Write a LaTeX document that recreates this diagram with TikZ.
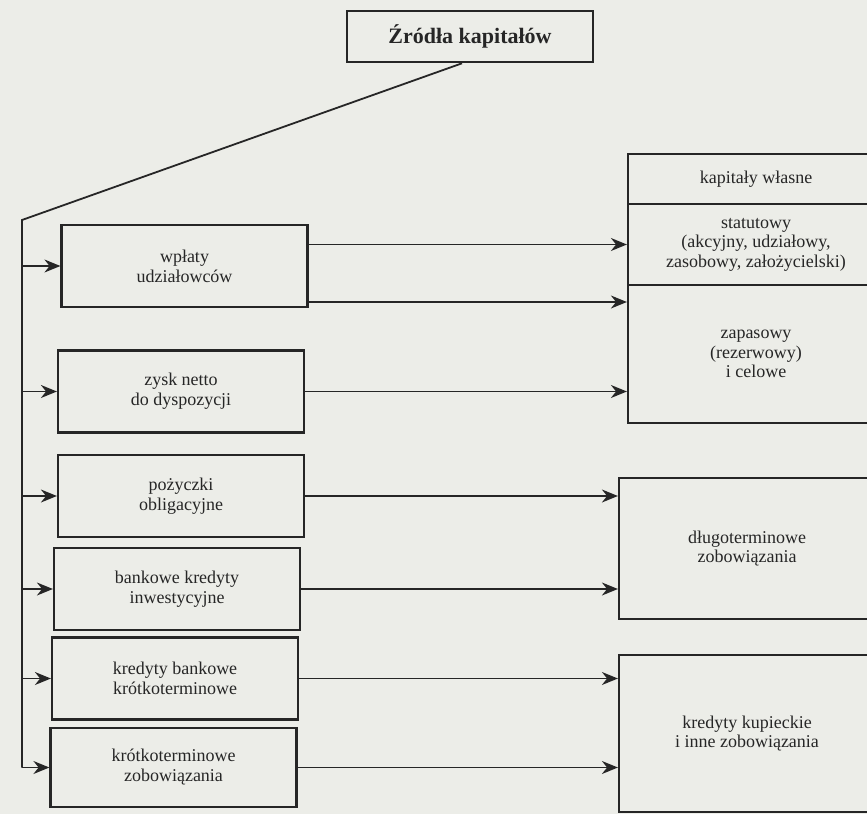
\documentclass[tikz,border=0pt]{standalone}
\usepackage{fontspec}
\setmainfont{Liberation Serif}
\usetikzlibrary{positioning,arrows.meta}
\definecolor{paper}{RGB}{236,237,232}
\definecolor{ink}{RGB}{38,38,38}
\tikzset{
  src/.style={draw=ink,line width=2.2pt,align=center,minimum width=246pt,minimum height=82pt,inner sep=2pt,text=ink,font=\fontsize{18}{20}\selectfont},
  grp/.style={draw=ink,line width=2.2pt,align=center,minimum width=256pt,inner sep=2pt,text=ink,font=\fontsize{18}{19.5}\selectfont},
  ttl/.style={draw=ink,line width=2.6pt,align=center,minimum width=246pt,minimum height=51pt,text=ink,font=\fontsize{22}{24}\selectfont\bfseries},
  arr/.style={-{Stealth[length=16pt,width=13pt]},line width=1.6pt,draw=ink},
  ln/.style={line width=1.8pt,draw=ink},
}

\begin{document}
\begin{tikzpicture}[x=1pt,y=-1pt]
  \fill[paper] (0,0) rectangle (867,814);
  \useasboundingbox (0,0) rectangle (867,814);
  % title
  \node[ttl] (title) at (470,36.5) {Źródła kapitałów};
  % left column: sources
  \node[src] (wp)   at (184.5,266)   {wpłaty\\udziałowców};
  \node[src] (zysk) at (181,391.5)   {zysk netto\\do dyspozycji};
  \node[src] (poz)  at (181,496)     {pożyczki\\obligacyjne};
  \node[src] (bki)  at (177,589)     {bankowe kredyty\\inwestycyjne};
  \node[src] (kbk)  at (175,678.5)   {kredyty bankowe\\krótkoterminowe};
  \node[src,minimum height=79pt] (kz) at (173.5,767.5) {krótkoterminowe\\zobowiązania};
  % right column: capital groups
  \node[grp,minimum height=50pt]  (kw) at (756,179)   {kapitały własne};
  \node[grp,minimum height=81pt]  (st) at (756,244.5) {statutowy\\(akcyjny, udziałowy,\\zasobowy, założycielski)};
  \node[grp,minimum height=138pt] (zp) at (756,354)   {zapasowy\\(rezerwowy)\\i celowe};
  \node[grp,minimum height=141pt] (dl) at (747,548.5) {długoterminowe\\zobowiązania};
  \node[grp,minimum height=157pt] (kk) at (747,733.5) {kredyty kupieckie\\i inne zobowiązania};
  % trunk from the title
  \coordinate (top) at (22,220);
  \coordinate (bot) at (22,767.5);
  \draw[ln] ([xshift=-8pt]title.south) -- (top) -- (bot);
  \foreach \b in {wp,zysk,poz,bki,kbk,kz}
    \draw[arr] (top |- \b.west) -- (\b.west);
  % sources to groups
  \draw[arr] (wp.east |- st.west) -- (st.west);
  \draw[arr] ([yshift=-36pt]wp.east) -- ([yshift=-36pt]wp.east -| zp.west);
  \draw[arr] (zysk.east) -- (zysk.east -| zp.west);
  \draw[arr] (poz.east) -- (poz.east -| dl.west);
  \draw[arr] (bki.east) -- (bki.east -| dl.west);
  \draw[arr] (kbk.east) -- (kbk.east -| kk.west);
  \draw[arr] (kz.east) -- (kz.east -| kk.west);
\end{tikzpicture}
\end{document}
